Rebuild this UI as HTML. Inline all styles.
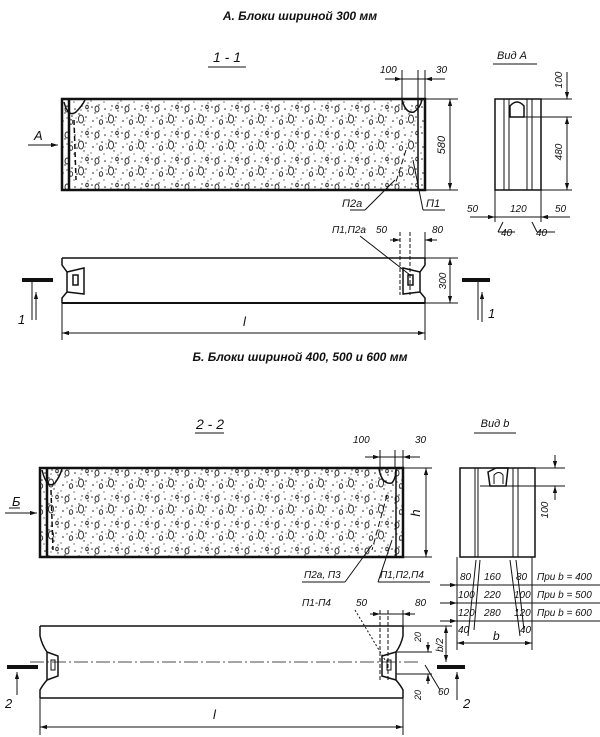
<!DOCTYPE html>
<html><head><meta charset="utf-8"><style>
html,body{margin:0;padding:0;background:#fff}
svg{display:block}
text{font-family:"Liberation Sans",sans-serif;font-style:italic;fill:#111}
</style></head><body>
<svg width="600" height="737" viewBox="0 0 600 737" xmlns="http://www.w3.org/2000/svg">
<defs>
<pattern id="conc" width="30" height="26" patternUnits="userSpaceOnUse">
<rect width="30" height="26" fill="#fff"/>
<g fill="#222">
<circle cx="2" cy="3" r="0.8"/><circle cx="9" cy="1" r="0.7"/><circle cx="15" cy="5" r="0.8"/><circle cx="22" cy="2" r="0.7"/><circle cx="28" cy="7" r="0.7"/>
<circle cx="5" cy="9" r="0.7"/><circle cx="12" cy="12" r="0.8"/><circle cx="19" cy="10" r="0.7"/><circle cx="26" cy="13" r="0.8"/>
<circle cx="3" cy="17" r="0.8"/><circle cx="10" cy="20" r="0.7"/><circle cx="17" cy="18" r="0.8"/><circle cx="24" cy="21" r="0.7"/>
<circle cx="7" cy="14" r="0.6"/><circle cx="21" cy="6" r="0.6"/><circle cx="14" cy="24" r="0.6"/><circle cx="1" cy="23" r="0.6"/>
<circle cx="28" cy="25" r="0.6"/><circle cx="16" cy="14" r="0.5"/><circle cx="25" cy="17" r="0.5"/>
</g>
<g fill="none" stroke="#222" stroke-width="0.9">
<ellipse cx="7" cy="5" rx="2" ry="3"/><ellipse cx="21" cy="15" rx="2.5" ry="4"/><ellipse cx="11" cy="18" rx="1.7" ry="2.3"/><ellipse cx="27" cy="3" rx="1.3" ry="1.8"/>
</g>
</pattern>
<marker id="ar" viewBox="0 0 10 10" refX="10" refY="5" markerWidth="7" markerHeight="7" orient="auto-start-reverse"><path d="M0,2 L10,5 L0,8 z" fill="#111"/></marker>
</defs>
<text x="300" y="20" text-anchor="middle" font-size="12" font-weight="bold">А. Блоки шириной 300 мм</text>
<text x="227" y="62" text-anchor="middle" font-size="14">1 - 1</text>
<line x1="208" y1="67" x2="246" y2="67" stroke="#111"/>

<rect x="62" y="99" width="363" height="91" fill="url(#conc)" stroke="#111" stroke-width="2.5"/>
<g stroke="#111" fill="none">
<line x1="69" y1="99" x2="69" y2="190" stroke-width="2.5"/>
<line x1="418" y1="99" x2="418" y2="190" stroke-width="1.5"/>
<path d="M64,102 Q68,118 76,112 Q82,106 85,100" stroke-width="1.5"/>
<path d="M402,100 Q406,114 414,112 Q420,108 422,100" stroke-width="1.5"/>
<path d="M406,150 L395,185" stroke-dasharray="6,3"/>
<path d="M74,120 L76,180" stroke-dasharray="5,3" stroke-width="1.5"/>
<line x1="395" y1="180" x2="365" y2="210"/>
<line x1="350" y1="210" x2="365" y2="210"/>
<line x1="413" y1="160" x2="423" y2="210"/>
<line x1="423" y1="210" x2="445" y2="210"/>
<line x1="402" y1="70" x2="402" y2="110"/><line x1="418" y1="70" x2="418" y2="99"/><line x1="425" y1="70" x2="425" y2="99"/>
<line x1="385" y1="79" x2="402" y2="79" marker-end="url(#ar)"/>
<line x1="402" y1="79" x2="425" y2="79"/>
<line x1="445" y1="79" x2="425" y2="79" marker-end="url(#ar)"/>
<line x1="425" y1="99" x2="458" y2="99"/><line x1="425" y1="190" x2="458" y2="190"/>
<line x1="450" y1="99" x2="450" y2="190" marker-start="url(#ar)" marker-end="url(#ar)"/>
<line x1="28" y1="145" x2="58" y2="145" marker-end="url(#ar)"/>
</g>
<text x="34" y="140" font-size="13">A</text>
<text x="445" y="145" font-size="11" transform="rotate(-90 445 145)" text-anchor="middle">580</text>
<text x="380" y="73" font-size="10">100</text>
<text x="436" y="73" font-size="10">30</text>
<text x="342" y="207" font-size="11">П2а</text>
<text x="426" y="207" font-size="11">П1</text>

<text x="512" y="59" text-anchor="middle" font-size="11">Вид А</text>
<line x1="493" y1="64" x2="537" y2="64" stroke="#111"/>
<g stroke="#111" fill="none">
<rect x="495" y="99" width="46" height="91" stroke-width="1.5"/>
<line x1="504" y1="99" x2="504" y2="190"/><line x1="509" y1="99" x2="509" y2="190"/>
<line x1="527" y1="99" x2="527" y2="190"/><line x1="532" y1="99" x2="532" y2="190"/>
<path d="M510,117 L510,106 Q517,98 524,106 L524,117 Z" stroke-width="1.5"/>
<line x1="509" y1="117" x2="572" y2="117"/>
<line x1="541" y1="99" x2="572" y2="99"/><line x1="541" y1="190" x2="572" y2="190"/>
<line x1="567" y1="72" x2="567" y2="99" marker-end="url(#ar)"/>
<line x1="567" y1="117" x2="567" y2="190" marker-start="url(#ar)" marker-end="url(#ar)"/>
<line x1="495" y1="190" x2="495" y2="222"/><line x1="541" y1="190" x2="541" y2="222"/>
<line x1="470" y1="217" x2="495" y2="217" marker-end="url(#ar)"/>
<line x1="495" y1="217" x2="541" y2="217"/>
<line x1="570" y1="217" x2="541" y2="217" marker-end="url(#ar)"/>
<line x1="503" y1="222" x2="498" y2="232"/><line x1="498" y1="232" x2="515" y2="232"/>
<line x1="532" y1="222" x2="537" y2="232"/><line x1="537" y1="232" x2="555" y2="232"/>
</g>
<text x="562" y="80" font-size="10" transform="rotate(-90 562 80)" text-anchor="middle">100</text>
<text x="562" y="152" font-size="10" transform="rotate(-90 562 152)" text-anchor="middle">480</text>
<text x="467" y="212" font-size="10">50</text>
<text x="510" y="212" font-size="10">120</text>
<text x="555" y="212" font-size="10">50</text>
<text x="501" y="236" font-size="10">40</text>
<text x="536" y="236" font-size="10">40</text>

<text x="332" y="233" font-size="10">П1,П2а</text>
<text x="376" y="233" font-size="10">50</text>
<text x="432" y="233" font-size="10">80</text>
<g stroke="#111" fill="none">
<line x1="360" y1="236" x2="410" y2="275"/>
<line x1="400" y1="232" x2="400" y2="295" stroke-dasharray="4,2"/>
<line x1="410" y1="232" x2="410" y2="295" stroke-dasharray="4,2"/>
<line x1="425" y1="232" x2="425" y2="258"/>
<line x1="390" y1="240" x2="400" y2="240" marker-end="url(#ar)"/>
<line x1="437" y1="240" x2="425" y2="240" marker-end="url(#ar)"/>
<path d="M62,258 L425,258" stroke-width="1.5"/>
<path d="M62,303 L425,303" stroke-width="2"/>
<path d="M62,258 L62,265 L67,272 L67,292 L62,298 L62,303" stroke-width="1.5"/>
<path d="M425,258 L425,265 L420,272 L420,292 L425,298 L425,303" stroke-width="1.5"/>
<path d="M67,272 L84,268 L84,294 L67,292" stroke-width="1.5"/>
<path d="M420,272 L403,268 L403,294 L420,292" stroke-width="1.5"/>
<rect x="73" y="275" width="5" height="10" stroke-width="1.5"/>
<rect x="408" y="275" width="5" height="10" stroke-width="1.5"/>
<line x1="425" y1="258" x2="458" y2="258"/><line x1="425" y1="303" x2="458" y2="303"/>
<line x1="450" y1="258" x2="450" y2="303" marker-start="url(#ar)" marker-end="url(#ar)"/>
<line x1="62" y1="303" x2="62" y2="340"/><line x1="425" y1="303" x2="425" y2="340"/>
<line x1="62" y1="333" x2="425" y2="333" marker-start="url(#ar)" marker-end="url(#ar)"/>
<line x1="22" y1="280" x2="53" y2="280" stroke-width="4"/>
<line x1="32" y1="280" x2="32" y2="320"/>
<line x1="36" y1="320" x2="36" y2="292" marker-end="url(#ar)"/>
<line x1="462" y1="280" x2="490" y2="280" stroke-width="4"/>
<line x1="478" y1="280" x2="478" y2="320"/>
<line x1="482" y1="322" x2="482" y2="292" marker-end="url(#ar)"/>
</g>
<text x="446" y="281" font-size="10" transform="rotate(-90 446 281)" text-anchor="middle">300</text>
<text x="18" y="324" font-size="13">1</text>
<text x="488" y="318" font-size="13">1</text>
<text x="243" y="326" font-size="13">l</text>

<text x="300" y="361" text-anchor="middle" font-size="12" font-weight="bold">Б. Блоки шириной 400, 500 и 600 мм</text>
<text x="210" y="429" text-anchor="middle" font-size="14">2 - 2</text>
<line x1="195" y1="433" x2="224" y2="433" stroke="#111"/>

<rect x="40" y="468" width="363" height="89" fill="url(#conc)" stroke="#111" stroke-width="2.5"/>
<g stroke="#111" fill="none">
<line x1="47" y1="468" x2="47" y2="557" stroke-width="2.5"/>
<line x1="396" y1="468" x2="396" y2="557" stroke-width="1.5"/>
<path d="M42,470 Q47,490 55,483 Q60,476 62,469" stroke-width="1.5"/>
<path d="M379,469 Q382,485 392,483 Q396,478 396,470" stroke-width="1.5"/>
<path d="M51,490 L53,550" stroke-dasharray="5,3" stroke-width="1.5"/>
<path d="M387,495 L372,550" stroke-dasharray="6,3"/>
<line x1="372" y1="545" x2="345" y2="582"/><line x1="302" y1="582" x2="345" y2="582"/>
<line x1="392" y1="540" x2="378" y2="582"/><line x1="378" y1="582" x2="430" y2="582"/>
<line x1="380" y1="450" x2="380" y2="475"/><line x1="395" y1="450" x2="395" y2="468"/><line x1="403" y1="450" x2="403" y2="468"/>
<line x1="365" y1="457" x2="380" y2="457" marker-end="url(#ar)"/>
<line x1="380" y1="457" x2="403" y2="457"/>
<line x1="420" y1="457" x2="403" y2="457" marker-end="url(#ar)"/>
<line x1="403" y1="468" x2="432" y2="468"/><line x1="403" y1="557" x2="432" y2="557"/>
<line x1="426" y1="468" x2="426" y2="557" marker-start="url(#ar)" marker-end="url(#ar)"/>
<line x1="5" y1="513" x2="37" y2="513" marker-end="url(#ar)"/>
<line x1="9" y1="508" x2="20" y2="508"/>
</g>
<text x="12" y="506" font-size="13">Б</text>
<text x="353" y="443" font-size="10">100</text>
<text x="415" y="443" font-size="10">30</text>
<text x="420" y="513" font-size="13" transform="rotate(-90 420 513)" text-anchor="middle">h</text>
<text x="304" y="578" font-size="10">П2а, П3</text>
<text x="380" y="578" font-size="10">П1,П2,П4</text>

<text x="495" y="427" text-anchor="middle" font-size="11">Вид b</text>
<line x1="474" y1="433" x2="516" y2="433" stroke="#111"/>
<g stroke="#111" fill="none">
<rect x="460" y="468" width="75" height="89" stroke-width="1.5"/>
<line x1="475" y1="468" x2="475" y2="557"/><line x1="478" y1="468" x2="478" y2="557"/>
<line x1="513" y1="468" x2="513" y2="557"/><line x1="518" y1="468" x2="518" y2="557"/>
<path d="M490,486 L488,472 L496,468 L508,468 L506,486 Z" stroke-width="1.5"/>
<path d="M494,484 L494,475 Q499,470 503,475 L503,484" />
<line x1="480" y1="486" x2="565" y2="486"/>
<line x1="535" y1="468" x2="565" y2="468"/>
<line x1="555" y1="455" x2="555" y2="468" marker-end="url(#ar)"/>
<line x1="555" y1="500" x2="555" y2="486" marker-end="url(#ar)"/>
<line x1="457" y1="557" x2="457" y2="650"/><line x1="532" y1="557" x2="532" y2="650"/>
<line x1="440" y1="585" x2="600" y2="585"/><line x1="440" y1="603" x2="600" y2="603"/><line x1="440" y1="621" x2="600" y2="621"/>
<line x1="440" y1="585" x2="457" y2="585" marker-end="url(#ar)"/>
<line x1="440" y1="603" x2="457" y2="603" marker-end="url(#ar)"/>
<line x1="440" y1="621" x2="457" y2="621" marker-end="url(#ar)"/>
<line x1="476" y1="560" x2="468" y2="636"/><line x1="480" y1="560" x2="474" y2="630"/>
<line x1="510" y1="560" x2="520" y2="636"/><line x1="516" y1="560" x2="524" y2="630"/>
<line x1="457" y1="643" x2="532" y2="643" marker-start="url(#ar)" marker-end="url(#ar)"/>
</g>
<text x="548" y="510" font-size="10" transform="rotate(-90 548 510)" text-anchor="middle">100</text>
<g font-size="10">
<text x="460" y="580">80</text><text x="484" y="580">160</text><text x="516" y="580">80</text><text x="537" y="580">При b = 400</text>
<text x="458" y="598">100</text><text x="484" y="598">220</text><text x="514" y="598">100</text><text x="537" y="598">При b = 500</text>
<text x="458" y="616">120</text><text x="484" y="616">280</text><text x="514" y="616">120</text><text x="537" y="616">При b = 600</text>
<text x="458" y="633">40</text><text x="520" y="633">40</text>
</g>
<text x="493" y="640" font-size="12">b</text>

<text x="302" y="606" font-size="10">П1-П4</text>
<text x="356" y="606" font-size="10">50</text>
<text x="415" y="606" font-size="10">80</text>
<g stroke="#111" fill="none">
<line x1="355" y1="610" x2="385" y2="660" stroke-dasharray="2,2"/>
<line x1="380" y1="610" x2="380" y2="680" stroke-dasharray="4,2"/>
<line x1="388" y1="610" x2="388" y2="680" stroke-dasharray="4,2"/>
<line x1="403" y1="610" x2="403" y2="626"/>
<line x1="370" y1="614" x2="380" y2="614" marker-end="url(#ar)"/>
<line x1="380" y1="614" x2="403" y2="614"/>
<line x1="415" y1="614" x2="403" y2="614" marker-end="url(#ar)"/>
<line x1="40" y1="626" x2="403" y2="626" stroke-width="1.5"/>
<line x1="40" y1="698" x2="403" y2="698" stroke-width="1.5"/>
<path d="M40,626 L40,636 Q42,645 47,652 L47,680 Q42,686 40,690 L40,698" stroke-width="1.5"/>
<path d="M403,626 L403,636 Q401,645 396,652 L396,680 Q401,686 403,690 L403,698" stroke-width="1.5"/>
<path d="M47,652 L58,656 L58,676 L47,680" stroke-width="1.5"/>
<path d="M396,652 L382,656 L382,676 L396,680" stroke-width="1.5"/>
<rect x="51" y="660" width="4" height="10"/>
<rect x="387" y="660" width="4" height="10"/>
<line x1="30" y1="662" x2="420" y2="662" stroke-dasharray="14,3,2,3" stroke-width="0.8"/>
<line x1="403" y1="626" x2="452" y2="626"/>
<line x1="428" y1="642" x2="428" y2="652" marker-end="url(#ar)"/>
<line x1="428" y1="684" x2="428" y2="674" marker-end="url(#ar)"/>
<line x1="446" y1="626" x2="446" y2="662" marker-start="url(#ar)" marker-end="url(#ar)"/>
<line x1="396" y1="652" x2="432" y2="652"/><line x1="396" y1="674" x2="432" y2="674"/>
<line x1="425" y1="665" x2="440" y2="690"/>
<line x1="7" y1="667" x2="38" y2="667" stroke-width="4"/>
<line x1="17" y1="695" x2="17" y2="672" marker-end="url(#ar)"/>
<line x1="437" y1="667" x2="465" y2="667" stroke-width="4"/>
<line x1="457" y1="700" x2="457" y2="672" marker-end="url(#ar)"/>
<line x1="40" y1="698" x2="40" y2="735"/><line x1="403" y1="698" x2="403" y2="735"/>
<line x1="40" y1="727" x2="403" y2="727" marker-start="url(#ar)" marker-end="url(#ar)"/>
</g>
<text x="421" y="637" font-size="9" transform="rotate(-90 421 637)" text-anchor="middle">20</text>
<text x="443" y="645" font-size="10" transform="rotate(-90 443 645)" text-anchor="middle">b/2</text>
<text x="421" y="695" font-size="9" transform="rotate(-90 421 695)" text-anchor="middle">20</text>
<text x="438" y="695" font-size="10">60</text>
<text x="5" y="708" font-size="13">2</text>
<text x="463" y="708" font-size="13">2</text>
<text x="213" y="719" font-size="13">l</text>
</svg>
</body></html>
